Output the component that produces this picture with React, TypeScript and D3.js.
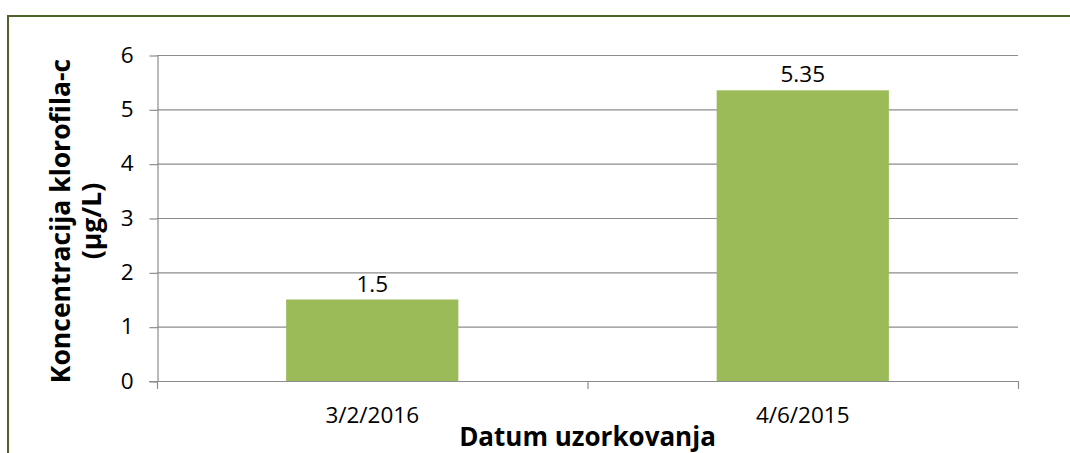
import * as d3 from "d3";
import React, { useEffect, useRef } from "react";

const categories = ["3/2/2016", "4/6/2015"];
const values = [1.5, 5.35];
const valueLabels = ["1.5", "5.35"];
const yTicks = [0, 1, 2, 3, 4, 5, 6];
const yTitleLines = ["Koncentracija klorofila-c", "(µg/L)"];
const xTitle = "Datum uzorkovanja";

const W = 1070;
const H = 453;
const FONT = "'Open Sans', 'Noto Sans', sans-serif";

export default function App() {
  const ref = useRef<SVGSVGElement>(null);

  useEffect(() => {
    const svg = d3.select(ref.current);
    svg.selectAll("*").remove();

    // plot area
    const left = 157, right = 1018, top = 55, bottom = 381;

    const x = d3.scaleBand().domain(categories).range([left, right]).paddingInner(0.6).paddingOuter(0.3);
    const y = d3.scaleLinear().domain([0, 6]).range([bottom, top]);

    // outer border (chart area is cut off on the right and bottom)
    svg.append("path")
      .attr("d", `M8,${H + 5} L8,16 L${W + 5},16`)
      .attr("fill", "none")
      .attr("stroke", "#4f6228")
      .attr("stroke-width", 2);

    // grid lines
    svg.append("g")
      .selectAll("line")
      .data(yTicks.filter((t) => t > 0))
      .join("line")
      .attr("x1", left)
      .attr("x2", right)
      .attr("y1", (d) => y(d) + 0.5)
      .attr("y2", (d) => y(d) + 0.5)
      .attr("stroke", "#8c8c8c")
      .attr("stroke-width", 1.2);

    // bars
    svg.append("g")
      .selectAll("rect")
      .data(values)
      .join("rect")
      .attr("x", (d, i) => x(categories[i])!)
      .attr("width", x.bandwidth())
      .attr("y", (d) => y(d))
      .attr("height", (d) => bottom - y(d))
      .attr("fill", "#9bbb59");

    // value labels
    svg.append("g")
      .selectAll("text")
      .data(values)
      .join("text")
      .attr("x", (d, i) => x(categories[i])! + x.bandwidth() / 2)
      .attr("y", (d) => y(d) - 8)
      .attr("text-anchor", "middle")
      .attr("font-family", FONT)
      .attr("font-size", 22.5)
      .attr("fill", "#000")
      .text((d, i) => valueLabels[i]);

    // y axis
    const yAxis = svg.append("g")
      .attr("transform", `translate(${left + 0.5},0)`)
      .call(d3.axisLeft(y).tickValues(yTicks).tickSize(8).tickSizeOuter(0).tickPadding(16).tickFormat(d3.format("d")));
    yAxis.select(".domain").attr("stroke", "#8c8c8c").attr("stroke-width", 1.2);
    yAxis.selectAll(".tick line").attr("stroke", "#8c8c8c").attr("stroke-width", 1.2).attr("transform", "translate(0,0.5)");
    yAxis.selectAll(".tick text")
      .attr("font-family", FONT)
      .attr("font-size", 22.5)
      .attr("fill", "#000");

    // x axis line + ticks at category boundaries
    const xg = svg.append("g");
    xg.append("line")
      .attr("x1", left - 8)
      .attr("x2", right)
      .attr("y1", bottom + 0.5)
      .attr("y2", bottom + 0.5)
      .attr("stroke", "#8c8c8c")
      .attr("stroke-width", 1.2);
    const boundaries = d3.range(categories.length + 1).map((i) => left + i * ((right - left) / categories.length));
    xg.selectAll("line.tk")
      .data(boundaries)
      .join("line")
      .attr("class", "tk")
      .attr("x1", (d) => d + 0.5)
      .attr("x2", (d) => d + 0.5)
      .attr("y1", bottom)
      .attr("y2", bottom + 8)
      .attr("stroke", "#8c8c8c")
      .attr("stroke-width", 1.2);
    xg.selectAll("text")
      .data(categories)
      .join("text")
      .attr("x", (d) => x(d)! + x.bandwidth() / 2)
      .attr("y", 423)
      .attr("text-anchor", "middle")
      .attr("font-family", FONT)
      .attr("font-size", 22.5)
      .attr("fill", "#000")
      .text((d) => d);

    // axis titles
    svg.append("text")
      .attr("x", (left + right) / 2)
      .attr("y", 446)
      .attr("text-anchor", "middle")
      .attr("font-family", FONT)
      .attr("font-size", 26)
      .attr("font-weight", "bold")
      .attr("fill", "#000")
      .text(xTitle);

    const yt = svg.append("text")
      .attr("transform", "translate(70,221) rotate(-90)")
      .attr("text-anchor", "middle")
      .attr("font-family", FONT)
      .attr("font-size", 26.5)
      .attr("font-weight", "bold")
      .attr("fill", "#000");
    yt.selectAll("tspan")
      .data(yTitleLines)
      .join("tspan")
      .attr("x", 0)
      .attr("dy", (d, i) => (i === 0 ? 0 : 31))
      .text((d) => d);
  }, []);

  return (
    <div style={{ position: "absolute", left: 0, top: 0 }}>
      <svg ref={ref} width={W} height={H} style={{ display: "block", background: "#fff" }} />
    </div>
  );
}
